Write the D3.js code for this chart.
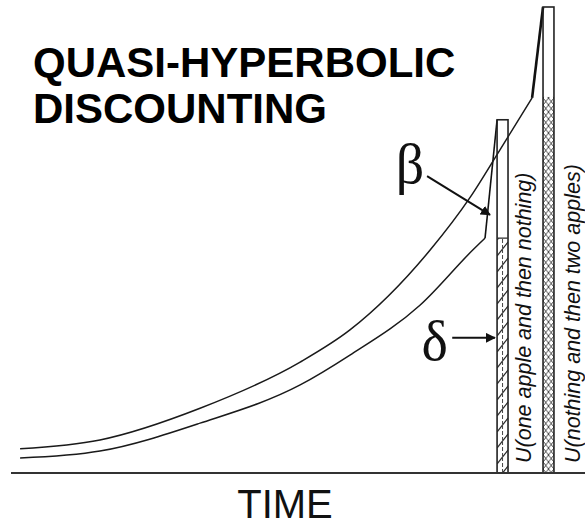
<!DOCTYPE html>
<html>
<head>
<meta charset="utf-8">
<script src="https://cdn.jsdelivr.net/npm/d3@7"></script>
<style>
  body { margin: 0; background: #fff; }
  svg { display: block; }
</style>
</head>
<body>
<svg id="chart" width="585" height="525"></svg>
<script>
// time (arbitrary units) and utility (arbitrary units)
const oneAppleTime = [1.9, 16.5, 34.8, 53.1, 62.2, 75.0, 84.7, 86.9]
const oneAppleUtil = [3.2, 4.7, 10.7, 18.9, 25.3, 36.0, 47.9, 50.4]
const twoApplesTime = [1.9, 16.5, 34.8, 53.1, 62.2, 76.9, 84.2, 89.6, 95.5]
const twoApplesUtil = [5.2, 7.1, 13.9, 23.8, 30.7, 47.9, 59.2, 69.3, 80.5]

// the two rewards: when they arrive, their full utility, and the delta-discounted part
const barNames = ["U(one apple and then nothing)", "U(nothing and then two apples)"]
const barTime = [90.1, 98.5]
const barUtil = [75.8, 100]
const barDelta = [50.4, 80.7]

const W = 585, H = 525
const svg = d3.select("#chart")

const x = d3.scaleLinear().domain([0, 100]).range([9.7, 556.7])
const y = d3.scaleLinear().domain([0, 100]).range([473, 7])
const half = 1.0   // half bar width, time units

const defs = svg.append("defs")
// rope-like hatch of the first bar
const pw = x(barTime[0] + half) - x(barTime[0] - half)
const p1 = defs.append("pattern")
  .attr("id", "hatch1").attr("patternUnits", "userSpaceOnUse")
  .attr("x", x(barTime[0] - half)).attr("y", 0)
  .attr("width", pw).attr("height", 16)
p1.append("path").attr("d", `M0,16 L${pw},2`).attr("stroke", "#222").attr("stroke-width", 1.2)
p1.append("path").attr("d", `M${pw / 2},0 L${pw / 2},16`).attr("stroke", "#444")
  .attr("stroke-width", 1).attr("stroke-dasharray", "3,2")
// crosshatch of the second bar
const pw2 = (x(barTime[1] + half) - x(barTime[1] - half)) / 2
const p2 = defs.append("pattern")
  .attr("id", "hatch2").attr("patternUnits", "userSpaceOnUse")
  .attr("x", x(barTime[1] - half)).attr("y", 0)
  .attr("width", pw2).attr("height", 7)
p2.append("path").attr("d", `M0,0 L${pw2},7 M${pw2},0 L0,7`).attr("stroke", "#333").attr("stroke-width", 0.9)

defs.append("marker").attr("id", "arr")
  .attr("viewBox", "0 0 10 10").attr("refX", 9).attr("refY", 5)
  .attr("markerWidth", 5).attr("markerHeight", 5).attr("orient", "auto")
  .append("path").attr("d", "M0,0 L10,5 L0,10 z").attr("fill", "#111")

// title
const titleFont = "Liberation Sans, Arial, sans-serif"
svg.append("text").attr("x", 33).attr("y", 77)
  .attr("font-family", titleFont).attr("font-weight", "bold")
  .attr("font-size", 42).attr("fill", "#000").text("QUASI-HYPERBOLIC")
svg.append("text").attr("x", 33).attr("y", 123)
  .attr("font-family", titleFont).attr("font-weight", "bold")
  .attr("font-size", 42).attr("fill", "#000").text("DISCOUNTING")

// curves
const line = d3.line().x(d => x(d[0])).y(d => y(d[1])).curve(d3.curveMonotoneX)
const curves = [
  d3.zip(oneAppleTime, oneAppleUtil),
  d3.zip(twoApplesTime, twoApplesUtil)
]
curves.forEach((pts, i) => {
  svg.append("path").attr("d", line(pts))
    .attr("fill", "none").attr("stroke", "#1a1a1a").attr("stroke-width", 1.5)
  // beta jump up to the top of the bar
  const last = pts[pts.length - 1]
  svg.append("line")
    .attr("x1", x(last[0])).attr("y1", y(last[1]))
    .attr("x2", x(barTime[i] - half)).attr("y2", y(barUtil[i]))
    .attr("stroke", "#111").attr("stroke-width", i == 1 ? 2.6 : 1.6)
})

// bars
barTime.forEach((t, i) => {
  const x0 = x(t - half), x1 = x(t + half)
  svg.append("rect").attr("x", x0).attr("y", y(barDelta[i]))
    .attr("width", x1 - x0).attr("height", y(0) - y(barDelta[i]))
    .attr("fill", "url(#hatch" + (i + 1) + ")")
  svg.append("rect").attr("x", x0).attr("y", y(barUtil[i]))
    .attr("width", x1 - x0).attr("height", y(0) - y(barUtil[i]))
    .attr("fill", "none").attr("stroke", "#222").attr("stroke-width", 1.6)
  if (i == 0) {
    svg.append("line").attr("x1", x0).attr("x2", x1)
      .attr("y1", y(barDelta[i])).attr("y2", y(barDelta[i]))
      .attr("stroke", "#333").attr("stroke-width", 1.3)
  }
})

// vertical labels
const labelX = [531, 580]
barNames.forEach((s, i) => {
  svg.append("text")
    .attr("transform", `translate(${labelX[i]},463) rotate(-90)`)
    .attr("font-family", titleFont).attr("font-style", "italic")
    .attr("font-size", 21.5).attr("fill", "#111").text(s)
})

// axis line
svg.append("line").attr("x1", 11).attr("x2", W).attr("y1", y(0)).attr("y2", y(0))
  .attr("stroke", "#333").attr("stroke-width", 2)
svg.append("text").attr("x", 285).attr("y", 518).attr("text-anchor", "middle")
  .attr("font-family", titleFont).attr("font-size", 40)
  .attr("fill", "#111").text("TIME")

// beta and delta annotations
const notes = [
  { s: "β", t: 75.8, u: 62.2, from: [76.3, 63.7], to: [87.8, 55.4] },
  { s: "δ", t: 80.1, u: 24.2, from: [80.9, 29.0], to: [88.7, 29.0] }
]
notes.forEach(n => {
  svg.append("text").attr("x", x(n.t)).attr("y", y(n.u)).attr("text-anchor", "end")
    .attr("font-family", "Liberation Serif, Times New Roman, serif").attr("font-size", 56)
    .attr("fill", "#111").text(n.s)
  svg.append("line")
    .attr("x1", x(n.from[0])).attr("y1", y(n.from[1]))
    .attr("x2", x(n.to[0])).attr("y2", y(n.to[1]))
    .attr("stroke", "#111").attr("stroke-width", 2).attr("marker-end", "url(#arr)")
})
</script>
</body>
</html>
